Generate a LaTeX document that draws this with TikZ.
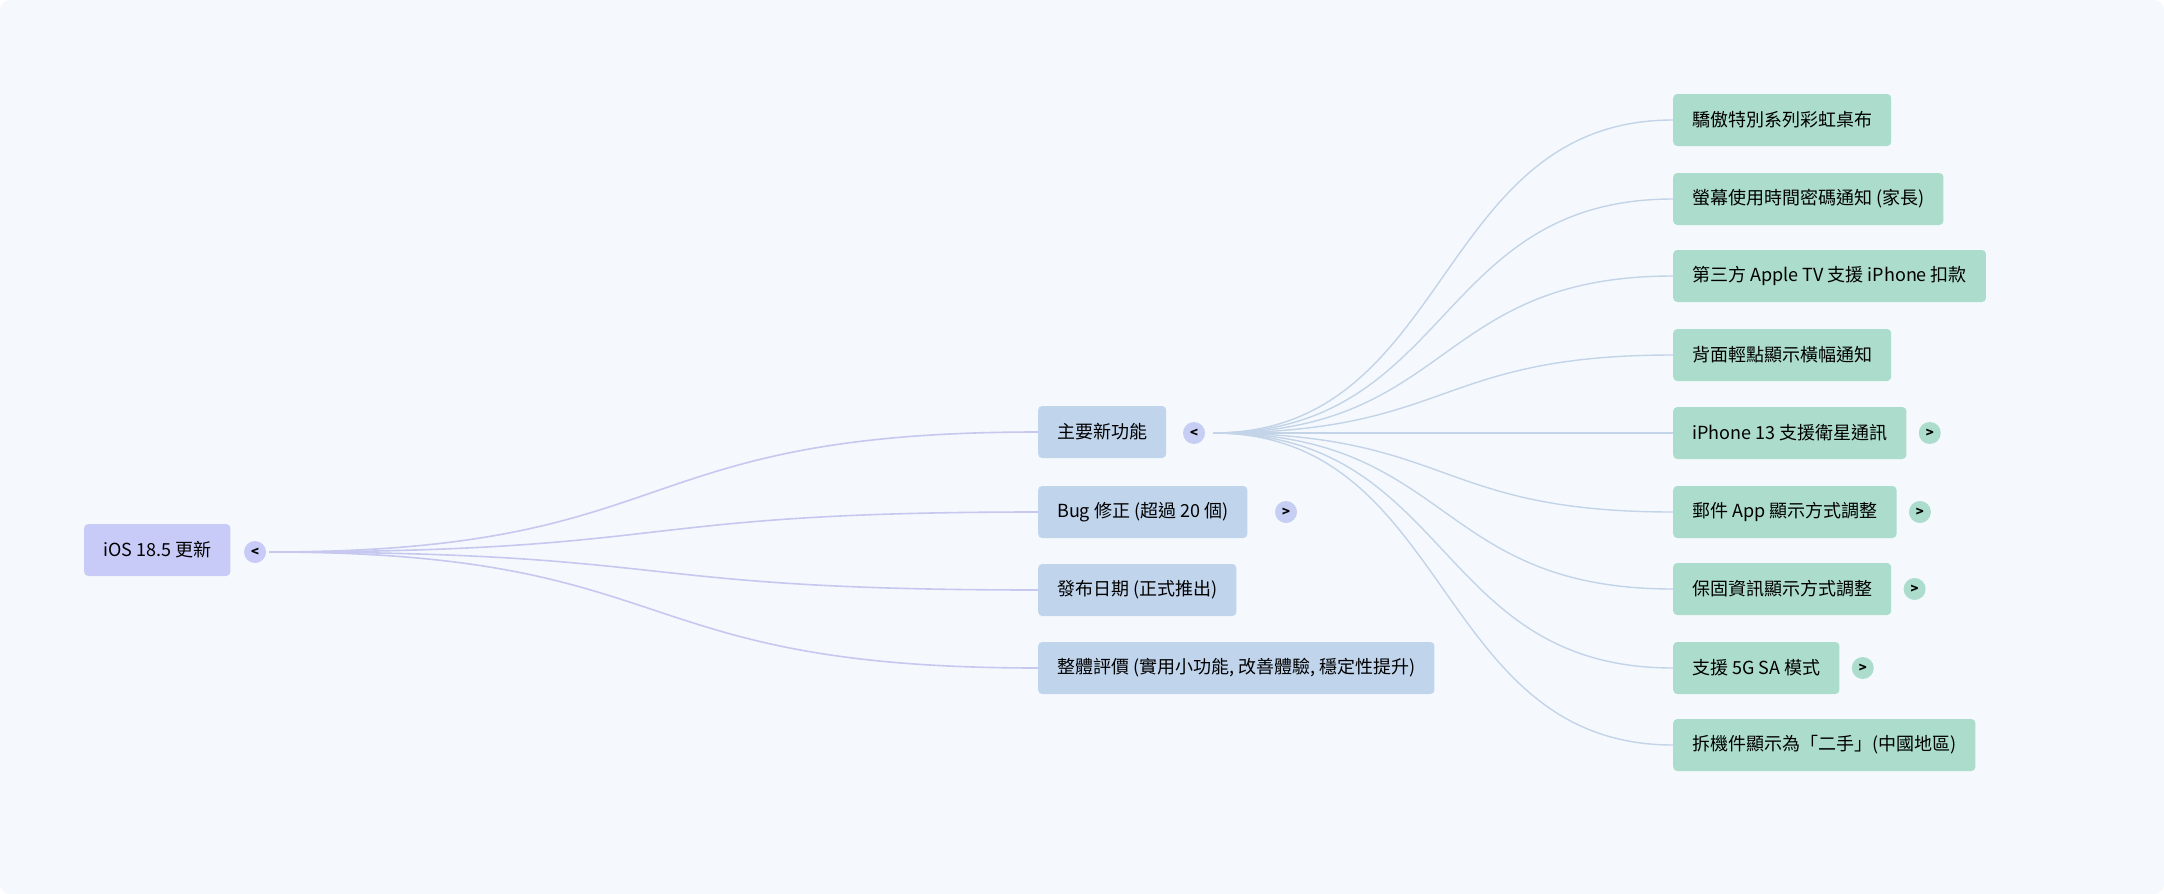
\documentclass[tikz,border=0pt]{standalone}
\usepackage{fontspec}
\setmainfont{Noto Sans CJK TC}
\usetikzlibrary{positioning}
\definecolor{bgc}{HTML}{F5F9FD}
\definecolor{rootc}{HTML}{C8CBF7}
\definecolor{midc}{HTML}{C0D4EC}
\definecolor{leafc}{HTML}{ACDCCC}
\definecolor{rootline}{HTML}{C6C8F0}
\definecolor{leafline}{HTML}{C3D3E8}
\tikzset{
    % boxes
    topic/.style={
           rectangle,
           rounded corners=4pt,
           anchor=west,
           minimum height=52pt,
           inner xsep=19pt,
           font=\fontsize{18}{22}\selectfont},
    rootbox/.style={topic, fill=rootc},
    midbox/.style={topic, fill=midc},
    leafbox/.style={topic, fill=leafc},
    % small toggles
    tog/.style={circle, inner sep=0pt, minimum size=22pt,
           font=\fontsize{13}{13}\selectfont\bfseries},
    % connector styles
    rootedge/.style={draw=rootline, line width=1.6pt},
    leafedge/.style={draw=leafline, line width=1.4pt}
}
\begin{document}
\begin{tikzpicture}[x=1pt,y=-1pt]
\fill[bgc, rounded corners=10pt] (0,0) rectangle (2164,894);
\useasboundingbox (0,0) rectangle (2164,894);
 %nodes
\node[rootbox] (root) at (84,550) {iOS 18.5 更新};
\node[tog, fill=rootc] (rtog) at (255,552) {<};
\node[midbox] (m1) at (1038,432) {主要新功能};
\node[midbox] (m2) at (1038,512) {Bug 修正 (超過 20 個)};
\node[midbox] (m3) at (1038,590) {發布日期 (正式推出)};
\node[midbox] (m4) at (1038,668) {整體評價 (實用小功能, 改善體驗, 穩定性提升)};
\node[tog, fill=rootc!70!midc] (mtog1) at (1194,433) {<};
\node[tog, fill=rootc!70!midc] (mtog2) at (1286,512) {>};
\node[leafbox] (s1) at (1673,120) {驕傲特別系列彩虹桌布};
\node[leafbox] (s2) at (1673,199) {螢幕使用時間密碼通知 (家長)};
\node[leafbox] (s3) at (1673,276) {第三方 Apple TV 支援 iPhone 扣款};
\node[leafbox] (s4) at (1673,355) {背面輕點顯示橫幅通知};
\node[leafbox] (s5) at (1673,433) {iPhone 13 支援衛星通訊};
\node[leafbox] (s6) at (1673,512) {郵件 App 顯示方式調整};
\node[leafbox] (s7) at (1673,589) {保固資訊顯示方式調整};
\node[leafbox] (s8) at (1673,668) {支援 5G SA 模式};
\node[leafbox] (s9) at (1673,745) {拆機件顯示為「二手」(中國地區)};
\node[tog, fill=leafc, right=12pt of s5] (stog5) {>};
\node[tog, fill=leafc, right=12pt of s6] (stog6) {>};
\node[tog, fill=leafc, right=12pt of s7] (stog7) {>};
\node[tog, fill=leafc, right=12pt of s8] (stog8) {>};
 %edges
\foreach \m in {m1,m2,m3,m4}
  \draw[rootedge] (rtog.east) ++(3,0) .. controls +(420,0) and +(-420,0) .. (\m.west);
\foreach \s in {s1,s2,s3,s4,s5,s6,s7,s8,s9}
  \draw[leafedge] (mtog1.east) ++(8,0) .. controls +(240,0) and +(-240,0) .. (\s.west);
\end{tikzpicture}
\end{document}
